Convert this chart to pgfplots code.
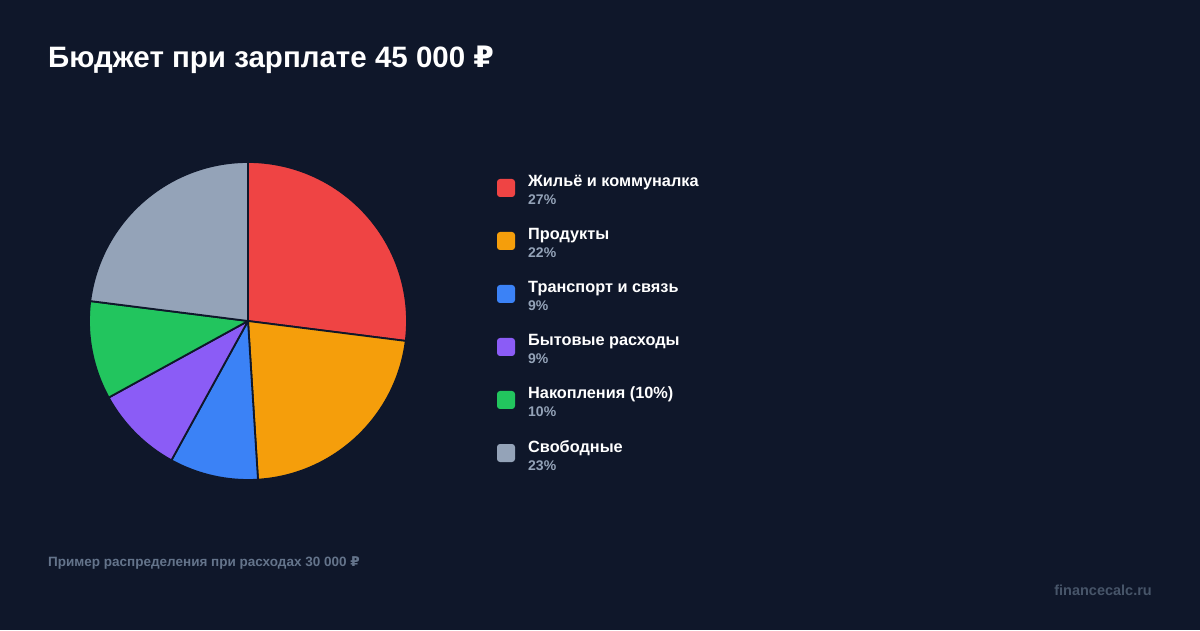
\documentclass[border=0pt]{standalone}
\usepackage{fontspec}
\setmainfont{Liberation Sans}
\newfontfamily\rubfont{DejaVu Sans}
\usepackage{pgfplots}
\pgfplotsset{compat=1.18}
\usepackage{pgfplotstable}
\usetikzlibrary{calc}
\newcommand{\rub}{{\rubfont ₽}}
\definecolor{bg}{HTML}{0F172A}
\definecolor{cRed}{HTML}{EF4444}
\definecolor{cOrange}{HTML}{F59E0B}
\definecolor{cBlue}{HTML}{3B82F6}
\definecolor{cPurple}{HTML}{8B5CF6}
\definecolor{cGreen}{HTML}{22C55E}
\definecolor{cGray}{HTML}{94A3B8}
\definecolor{cFoot}{HTML}{64748B}
\definecolor{cMark}{HTML}{475569}
\begin{document}
\begin{tikzpicture}[x=1pt,y=1pt]
\fill[bg] (0,0) rectangle (1200,630);
\useasboundingbox (0,0) rectangle (1200,630);
\begin{axis}[at={(0,0)}, anchor=south west, scale only axis,
  width=1200pt, height=630pt, xmin=0, xmax=1200, ymin=0, ymax=630,
  hide axis, clip=false]
\pgfplotsextra{%
  \gdef\startangle{90}%
  \foreach \p/\c in {27/cRed,22/cOrange,9/cBlue,9/cPurple,10/cGreen,23/cGray}{%
    \pgfmathsetmacro{\endangle}{\startangle-3.6*\p}%
    \fill[\c, draw=bg, line width=1.8pt, line join=round]
      (axis cs:248,309) -- ++(\startangle:159pt)
      arc[start angle=\startangle, end angle=\endangle, radius=159pt] -- cycle;
    \xdef\startangle{\endangle}%
  }%
  \foreach \c/\lab/\p [count=\i from 0] in {cRed/{Жильё и коммуналка}/27,
      cOrange/Продукты/22, cBlue/{Транспорт и связь}/9,
      cPurple/{Бытовые расходы}/9, cGreen/{Накопления (10\%)}/10,
      cGray/Свободные/23}{%
    \fill[\c, rounded corners=3pt] ($(axis cs:497,451)+(0,-53*\i)$) rectangle ++(18,-18);
    \node[anchor=base west, inner sep=0pt, text=white, font=\bfseries\fontsize{16.3}{18}\selectfont]
      at ($(axis cs:528,443)+(0,-53*\i)$) {\lab};
    \node[anchor=base west, inner sep=0pt, text=cGray, font=\bfseries\fontsize{14}{15}\selectfont]
      at ($(axis cs:528,425)+(0,-53*\i)$) {\p\%};
  }%
}
\node[anchor=base west, inner sep=0pt, text=white, font=\bfseries\fontsize{29.5}{32}\selectfont]
  at (axis cs:48,562) {Бюджет при зарплате 45 000 \rub};
\node[anchor=base west, inner sep=0pt, text=cFoot, font=\bfseries\fontsize{13.5}{15}\selectfont]
  at (axis cs:48,64) {Пример распределения при расходах 30 000 \rub};
\node[anchor=base east, inner sep=0pt, text=cMark, font=\bfseries\fontsize{14.5}{16}\selectfont]
  at (axis cs:1152,35) {financecalc.ru};
\end{axis}
\end{tikzpicture}
\end{document}
